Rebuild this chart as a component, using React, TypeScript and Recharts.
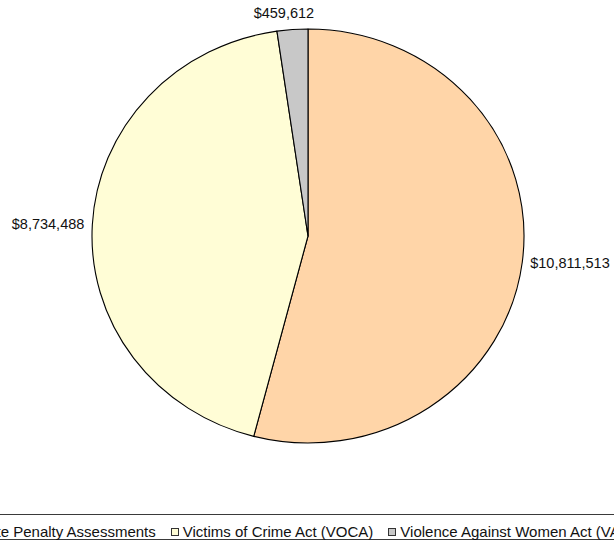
import React from "react";
import { PieChart, Pie, Cell, Legend } from "recharts";

const fundingSources = [
  "State Penalty Assessments",
  "Victims of Crime Act (VOCA)",
  "Violence Against Women Act (VAWA)",
];
const fundingAmounts = [10811513, 8734488, 459612];

const sliceColors = ["#FFD5A8", "#FFFDD6", "#C8C8C8"];

const WIDTH = 614;
const HEIGHT = 542;
// the reference pie is a bit wider than tall
const X_STRETCH = 216 / 207;
const FONT = "'Liberation Sans', Arial, sans-serif";
const RAD = Math.PI / 180;

const chartData = fundingSources.map((name, i) => ({
  name,
  value: fundingAmounts[i],
}));

function formatDollars(v: number): string {
  return "$" + v.toLocaleString("en-US");
}

function EllipseSector(props: any) {
  const { cx, cy, outerRadius, startAngle, endAngle, fill } = props;
  const ry = outerRadius;
  const rx = outerRadius * X_STRETCH;
  const x0 = cx + rx * Math.cos(-startAngle * RAD);
  const y0 = cy + ry * Math.sin(-startAngle * RAD);
  const x1 = cx + rx * Math.cos(-endAngle * RAD);
  const y1 = cy + ry * Math.sin(-endAngle * RAD);
  const large = Math.abs(startAngle - endAngle) > 180 ? 1 : 0;
  const sweep = startAngle > endAngle ? 1 : 0;
  const d = `M ${cx} ${cy} L ${x0} ${y0} A ${rx} ${ry} 0 ${large} ${sweep} ${x1} ${y1} Z`;
  return <path d={d} fill={fill} stroke="#000" strokeWidth={1.1} strokeLinejoin="round" />;
}

function renderLabel(props: any) {
  const { cx, cy, outerRadius, midAngle, value } = props;
  const c = Math.cos(-midAngle * RAD);
  const s = Math.sin(-midAngle * RAD);
  let x = cx + (outerRadius * X_STRETCH + 8) * c;
  let y = cy + (outerRadius + 8) * s;
  let anchor: "start" | "end" | "middle" = "middle";
  if (c > 0.3) anchor = "start";
  else if (c < -0.3) anchor = "end";
  else {
    // labels near the top/bottom lean with the slice and sit clear of the edge
    x += c * 110;
    y += s < 0 ? -8.5 : 8.5;
  }
  return (
    <text
      x={x}
      y={y}
      textAnchor={anchor}
      dominantBaseline="central"
      fontFamily={FONT}
      fontSize={14.5}
      fill="#111"
    >
      {formatDollars(value)}
    </text>
  );
}

function renderLegend(props: any) {
  const { payload } = props;
  return (
    <div
      style={{
        boxSizing: "border-box",
        height: 26,
        borderTop: "1px solid #3a3a3a",
        borderBottom: "1px solid #3a3a3a",
        display: "flex",
        alignItems: "flex-end",
        paddingLeft: 22,
        fontFamily: FONT,
        fontSize: 15,
        lineHeight: "15px",
        color: "#111",
        whiteSpace: "nowrap",
      }}
    >
      {(payload || []).map((entry: any, i: number) => (
        <span
          key={i}
          style={{ display: "flex", alignItems: "center", height: 15, marginRight: 15 }}
        >
          <span
            style={{
              display: "inline-block",
              boxSizing: "border-box",
              width: 8,
              height: 8,
              border: "1px solid #333",
              background: entry.color,
              marginRight: 4,
            }}
          />
          {entry.value}
        </span>
      ))}
    </div>
  );
}

export default function App() {
  return (
    <div
      style={{
        position: "absolute",
        left: 0,
        top: 0,
        width: WIDTH,
        height: HEIGHT,
        overflow: "hidden",
        background: "#fff",
      }}
    >
      <PieChart width={WIDTH} height={HEIGHT} margin={{ top: 0, right: 0, bottom: 0, left: 0 }}>
        <Pie
          data={chartData}
          dataKey="value"
          nameKey="name"
          cx={308}
          cy={236}
          outerRadius={207}
          startAngle={90}
          endAngle={-270}
          shape={EllipseSector}
          activeShape={EllipseSector}
          label={renderLabel}
          labelLine={false}
          isAnimationActive={false}
        >
          {chartData.map((d, i) => (
            <Cell key={d.name} fill={sliceColors[i]} />
          ))}
        </Pie>
        <Legend
          content={renderLegend}
          wrapperStyle={{ position: "absolute", left: -60, top: 514, width: 760, height: 26 }}
        />
      </PieChart>
    </div>
  );
}
